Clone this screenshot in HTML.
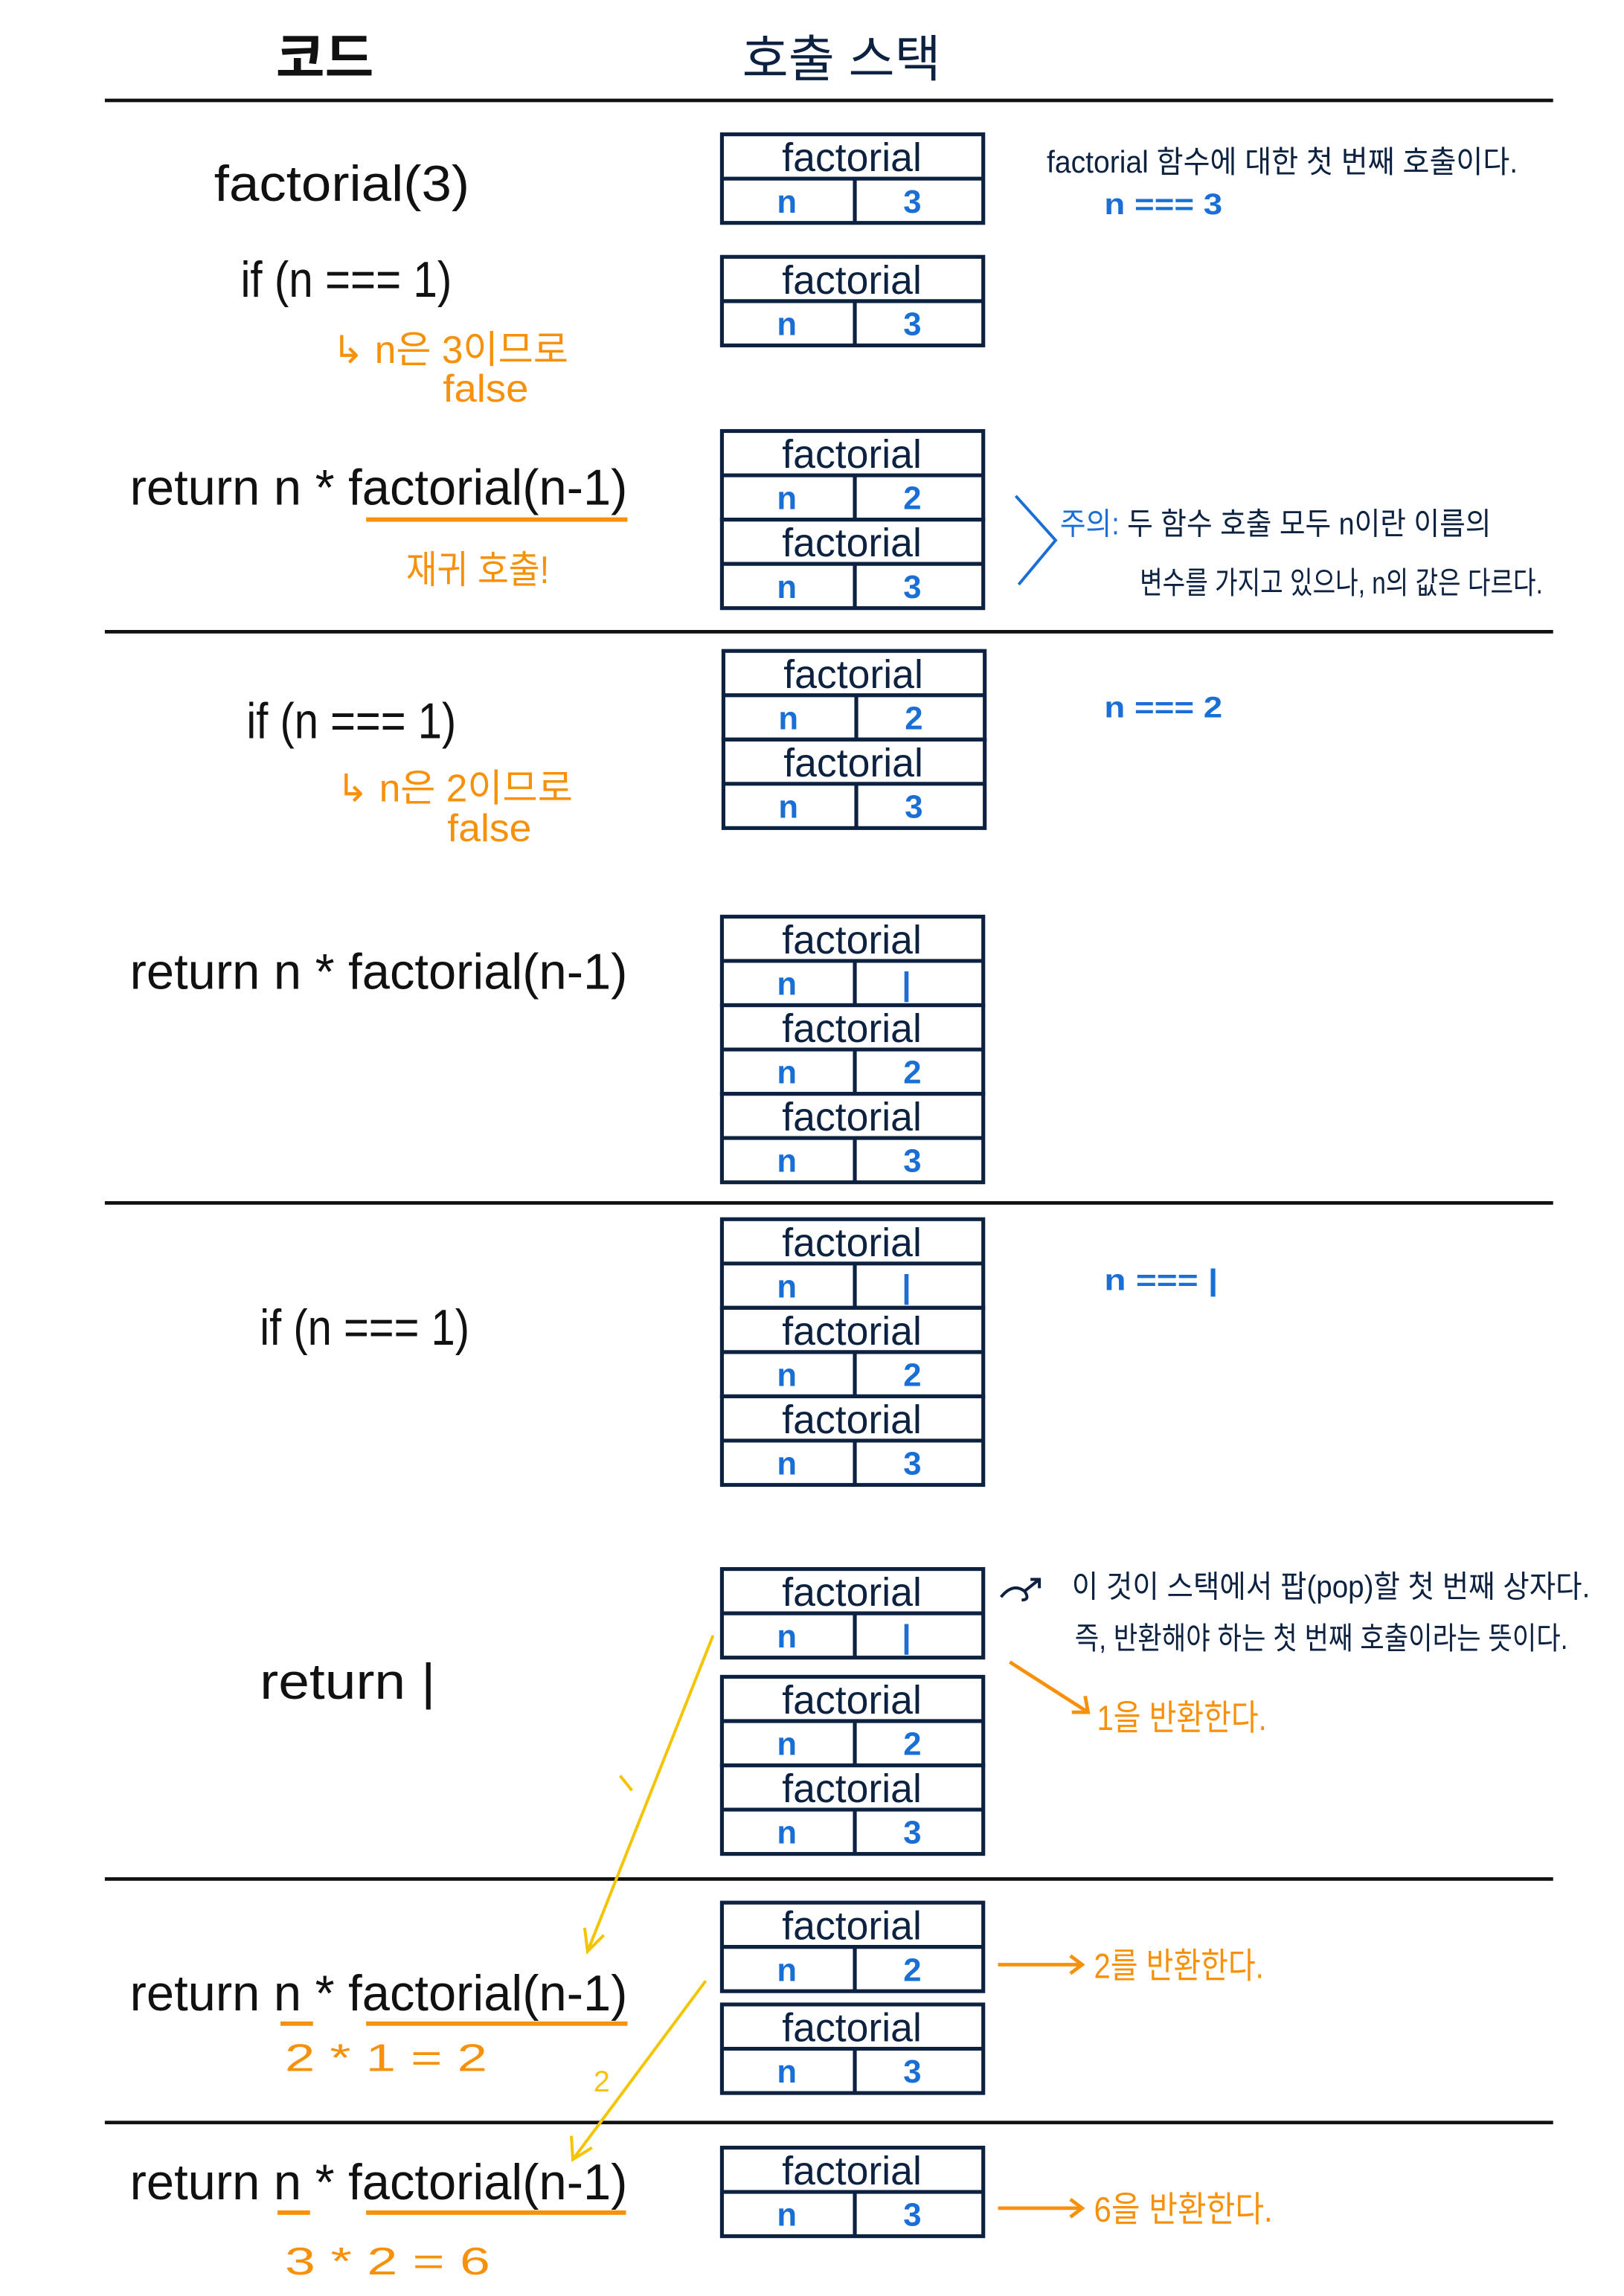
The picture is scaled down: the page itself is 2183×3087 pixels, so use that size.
<!DOCTYPE html>
<html><head><meta charset="utf-8"><style>
html,body{margin:0;padding:0;background:#fff;}
svg{display:block;}
text{font-family:"Liberation Sans","Noto Sans CJK KR",sans-serif;}
.c{font-size:34px;fill:#111;}
.o{fill:#f7900a;}
.nv{fill:#0d2240;}
.bl{fill:#1a6fd6;}
.f{font-size:27px;fill:#0d2240;text-anchor:middle;}
.nn{font-size:22px;fill:#1a6fd6;text-anchor:middle;font-weight:bold;}
.bx{fill:none;stroke:#0d2240;stroke-width:2.6;}
</style></head><body>
<svg width="2183" height="3087" viewBox="0 0 1100 1555.5" xmlns="http://www.w3.org/2000/svg">
<rect width="1100" height="1556" fill="#fff"/>
<text x="220" y="52" font-size="36" font-weight="bold" text-anchor="middle" fill="#111">코드</text>
<text x="570" y="52" font-size="34" text-anchor="middle" fill="#0d2240">호출 스택</text>
<g stroke="#111" stroke-width="2.4">
<line x1="71" y1="68" x2="1052" y2="68"/>
<line x1="71" y1="428" x2="1052" y2="428"/>
<line x1="71" y1="815" x2="1052" y2="815"/>
<line x1="71" y1="1273" x2="1052" y2="1273"/>
<line x1="71" y1="1438" x2="1052" y2="1438"/>
</g>

<!-- frames -->
<g>
<rect class="bx" x="489" y="91" width="177" height="60"/><line class="bx" x1="489" y1="121" x2="666" y2="121"/><line class="bx" x1="579" y1="121" x2="579" y2="151"/>
<text class="f" x="577" y="116">factorial</text><text class="nn" x="533" y="144">n</text><text class="nn" x="618" y="144">3</text>

<rect class="bx" x="489" y="174" width="177" height="60"/><line class="bx" x1="489" y1="204" x2="666" y2="204"/><line class="bx" x1="579" y1="204" x2="579" y2="234"/>
<text class="f" x="577" y="199">factorial</text><text class="nn" x="533" y="227">n</text><text class="nn" x="618" y="227">3</text>

<rect class="bx" x="489" y="292" width="177" height="60"/><line class="bx" x1="489" y1="322" x2="666" y2="322"/><line class="bx" x1="579" y1="322" x2="579" y2="352"/>
<text class="f" x="577" y="317">factorial</text><text class="nn" x="533" y="345">n</text><text class="nn" x="618" y="345">2</text>
<rect class="bx" x="489" y="352" width="177" height="60"/><line class="bx" x1="489" y1="382" x2="666" y2="382"/><line class="bx" x1="579" y1="382" x2="579" y2="412"/>
<text class="f" x="577" y="377">factorial</text><text class="nn" x="533" y="405">n</text><text class="nn" x="618" y="405">3</text>

<rect class="bx" x="490" y="441" width="177" height="60"/><line class="bx" x1="490" y1="471" x2="667" y2="471"/><line class="bx" x1="580" y1="471" x2="580" y2="501"/>
<text class="f" x="578" y="466">factorial</text><text class="nn" x="534" y="494">n</text><text class="nn" x="619" y="494">2</text>
<rect class="bx" x="490" y="501" width="177" height="60"/><line class="bx" x1="490" y1="531" x2="667" y2="531"/><line class="bx" x1="580" y1="531" x2="580" y2="561"/>
<text class="f" x="578" y="526">factorial</text><text class="nn" x="534" y="554">n</text><text class="nn" x="619" y="554">3</text>

<rect class="bx" x="489" y="621" width="177" height="60"/><line class="bx" x1="489" y1="651" x2="666" y2="651"/><line class="bx" x1="579" y1="651" x2="579" y2="681"/>
<text class="f" x="577" y="646">factorial</text><text class="nn" x="533" y="674">n</text><text class="nn" x="614" y="674">|</text>
<rect class="bx" x="489" y="681" width="177" height="60"/><line class="bx" x1="489" y1="711" x2="666" y2="711"/><line class="bx" x1="579" y1="711" x2="579" y2="741"/>
<text class="f" x="577" y="706">factorial</text><text class="nn" x="533" y="734">n</text><text class="nn" x="618" y="734">2</text>
<rect class="bx" x="489" y="741" width="177" height="60"/><line class="bx" x1="489" y1="771" x2="666" y2="771"/><line class="bx" x1="579" y1="771" x2="579" y2="801"/>
<text class="f" x="577" y="766">factorial</text><text class="nn" x="533" y="794">n</text><text class="nn" x="618" y="794">3</text>

<rect class="bx" x="489" y="826" width="177" height="60"/><line class="bx" x1="489" y1="856" x2="666" y2="856"/><line class="bx" x1="579" y1="856" x2="579" y2="886"/>
<text class="f" x="577" y="851">factorial</text><text class="nn" x="533" y="879">n</text><text class="nn" x="614" y="879">|</text>
<rect class="bx" x="489" y="886" width="177" height="60"/><line class="bx" x1="489" y1="916" x2="666" y2="916"/><line class="bx" x1="579" y1="916" x2="579" y2="946"/>
<text class="f" x="577" y="911">factorial</text><text class="nn" x="533" y="939">n</text><text class="nn" x="618" y="939">2</text>
<rect class="bx" x="489" y="946" width="177" height="60"/><line class="bx" x1="489" y1="976" x2="666" y2="976"/><line class="bx" x1="579" y1="976" x2="579" y2="1006"/>
<text class="f" x="577" y="971">factorial</text><text class="nn" x="533" y="999">n</text><text class="nn" x="618" y="999">3</text>

<rect class="bx" x="489" y="1063" width="177" height="60"/><line class="bx" x1="489" y1="1093" x2="666" y2="1093"/><line class="bx" x1="579" y1="1093" x2="579" y2="1123"/>
<text class="f" x="577" y="1088">factorial</text><text class="nn" x="533" y="1116">n</text><text class="nn" x="614" y="1116">|</text>

<rect class="bx" x="489" y="1136" width="177" height="60"/><line class="bx" x1="489" y1="1166" x2="666" y2="1166"/><line class="bx" x1="579" y1="1166" x2="579" y2="1196"/>
<text class="f" x="577" y="1161">factorial</text><text class="nn" x="533" y="1189">n</text><text class="nn" x="618" y="1189">2</text>
<rect class="bx" x="489" y="1196" width="177" height="60"/><line class="bx" x1="489" y1="1226" x2="666" y2="1226"/><line class="bx" x1="579" y1="1226" x2="579" y2="1256"/>
<text class="f" x="577" y="1221">factorial</text><text class="nn" x="533" y="1249">n</text><text class="nn" x="618" y="1249">3</text>

<rect class="bx" x="489" y="1289" width="177" height="60"/><line class="bx" x1="489" y1="1319" x2="666" y2="1319"/><line class="bx" x1="579" y1="1319" x2="579" y2="1349"/>
<text class="f" x="577" y="1314">factorial</text><text class="nn" x="533" y="1342">n</text><text class="nn" x="618" y="1342">2</text>
<rect class="bx" x="489" y="1358" width="177" height="60"/><line class="bx" x1="489" y1="1388" x2="666" y2="1388"/><line class="bx" x1="579" y1="1388" x2="579" y2="1418"/>
<text class="f" x="577" y="1383">factorial</text><text class="nn" x="533" y="1411">n</text><text class="nn" x="618" y="1411">3</text>

<rect class="bx" x="489" y="1455" width="177" height="60"/><line class="bx" x1="489" y1="1485" x2="666" y2="1485"/><line class="bx" x1="579" y1="1485" x2="579" y2="1515"/>
<text class="f" x="577" y="1480">factorial</text><text class="nn" x="533" y="1508">n</text><text class="nn" x="618" y="1508">3</text>
</g>

<!-- code column -->
<text class="c" x="145" y="136" font-size="38" textLength="173" lengthAdjust="spacingAndGlyphs">factorial(3)</text>
<text class="c" x="163" y="201" textLength="143" lengthAdjust="spacingAndGlyphs">if (n === 1)</text>
<text class="o" x="225" y="246" font-size="26" textLength="160" lengthAdjust="spacingAndGlyphs">↳ n은 3이므로</text>
<text class="o" x="300" y="272" font-size="26" textLength="58" lengthAdjust="spacingAndGlyphs">false</text>

<text class="c" x="88" y="342" textLength="337" lengthAdjust="spacingAndGlyphs">return  n  * factorial(n-1)</text>
<line x1="248" y1="352" x2="425" y2="352" stroke="#f7900a" stroke-width="3"/>
<text class="o" x="275" y="395" font-size="26" textLength="97" lengthAdjust="spacingAndGlyphs">재귀 호출!</text>

<text class="c" x="167" y="500" textLength="142" lengthAdjust="spacingAndGlyphs">if (n === 1)</text>
<text class="o" x="228" y="543" font-size="26" textLength="160" lengthAdjust="spacingAndGlyphs">↳ n은 2이므로</text>
<text class="o" x="303" y="570" font-size="26" textLength="57" lengthAdjust="spacingAndGlyphs">false</text>

<text class="c" x="88" y="670" textLength="337" lengthAdjust="spacingAndGlyphs">return  n  * factorial(n-1)</text>

<text class="c" x="176" y="911" textLength="142" lengthAdjust="spacingAndGlyphs">if (n === 1)</text>
<text class="c" x="176" y="1151" textLength="119" lengthAdjust="spacingAndGlyphs">return   |</text>

<text class="c" x="88" y="1362" textLength="337" lengthAdjust="spacingAndGlyphs">return  n  * factorial(n-1)</text>
<line x1="190" y1="1371" x2="212" y2="1371" stroke="#f7900a" stroke-width="3"/>
<line x1="248" y1="1371" x2="425" y2="1371" stroke="#f7900a" stroke-width="3"/>
<text class="o" x="193" y="1403" font-size="26" textLength="137" lengthAdjust="spacingAndGlyphs">2  *  1  =  2</text>

<text class="c" x="88" y="1490" textLength="337" lengthAdjust="spacingAndGlyphs">return  n  * factorial(n-1)</text>
<line x1="188" y1="1499" x2="210" y2="1499" stroke="#f7900a" stroke-width="3"/>
<line x1="248" y1="1499" x2="424" y2="1499" stroke="#f7900a" stroke-width="3"/>
<text class="o" x="193" y="1541" font-size="26" textLength="139" lengthAdjust="spacingAndGlyphs">3  *  2  =  6</text>

<!-- annotations -->
<text class="nv" x="709" y="117" font-size="21" textLength="319" lengthAdjust="spacingAndGlyphs">factorial 함수에 대한 첫 번째 호출이다.</text>
<text class="bl" x="748" y="145" font-size="20" font-weight="bold" textLength="80" lengthAdjust="spacingAndGlyphs">n === 3</text>

<polyline points="688,336 715,366 690,396" fill="none" stroke="#1a6fd6" stroke-width="2"/>
<text x="718" y="362" font-size="21" textLength="292" lengthAdjust="spacingAndGlyphs"><tspan fill="#1a6fd6">주의:</tspan><tspan fill="#0d2240"> 두 함수 호출 모두 n이란 이름의</tspan></text>
<text class="nv" x="772" y="402" font-size="21" textLength="273" lengthAdjust="spacingAndGlyphs">변수를 가지고 있으나, n의 값은 다르다.</text>

<text class="bl" x="748" y="486" font-size="20" font-weight="bold" textLength="80" lengthAdjust="spacingAndGlyphs">n === 2</text>
<text class="bl" x="748" y="874" font-size="20" font-weight="bold" textLength="77" lengthAdjust="spacingAndGlyphs">n === |</text>

<path d="M678,1082 q8,-10 16,-4 q4,6 -2,6 M694,1078 l10,-8 m-6,0 l6,0 l0,6" fill="none" stroke="#0d2240" stroke-width="2"/>
<text class="nv" x="726" y="1082" font-size="21" textLength="351" lengthAdjust="spacingAndGlyphs">이 것이 스택에서 팝(pop)할 첫 번째 상자다.</text>
<text class="nv" x="728" y="1117" font-size="21" textLength="334" lengthAdjust="spacingAndGlyphs">즉, 반환해야 하는 첫 번째 호출이라는 뜻이다.</text>

<g stroke="#f7900a" stroke-width="2.4" fill="none">
<line x1="684" y1="1126" x2="737" y2="1160"/><polyline points="726,1160 737,1160 735,1149"/>
<line x1="676" y1="1331" x2="733" y2="1331"/><polyline points="725,1325 733,1331 725,1337"/>
<line x1="676" y1="1496" x2="733" y2="1496"/><polyline points="725,1490 733,1496 725,1502"/>
</g>
<text class="o" x="743" y="1172" font-size="24" textLength="115" lengthAdjust="spacingAndGlyphs">1을 반환한다.</text>
<text class="o" x="741" y="1340" font-size="24" textLength="115" lengthAdjust="spacingAndGlyphs">2를 반환한다.</text>
<text class="o" x="741" y="1505" font-size="24" textLength="121" lengthAdjust="spacingAndGlyphs">6을 반환한다.</text>

<!-- yellow return arrows -->
<g stroke="#f5c400" stroke-width="2" fill="none">
<line x1="483" y1="1108" x2="398" y2="1322"/><polyline points="396,1306 398,1322 409,1311"/>
<line x1="420" y1="1203" x2="428" y2="1213"/>
<line x1="478" y1="1342" x2="388" y2="1463"/><polyline points="387,1447 388,1463 401,1455"/>
</g>
<text x="402" y="1417" font-size="20" fill="#f5c400">2</text>
</svg>
</body></html>
